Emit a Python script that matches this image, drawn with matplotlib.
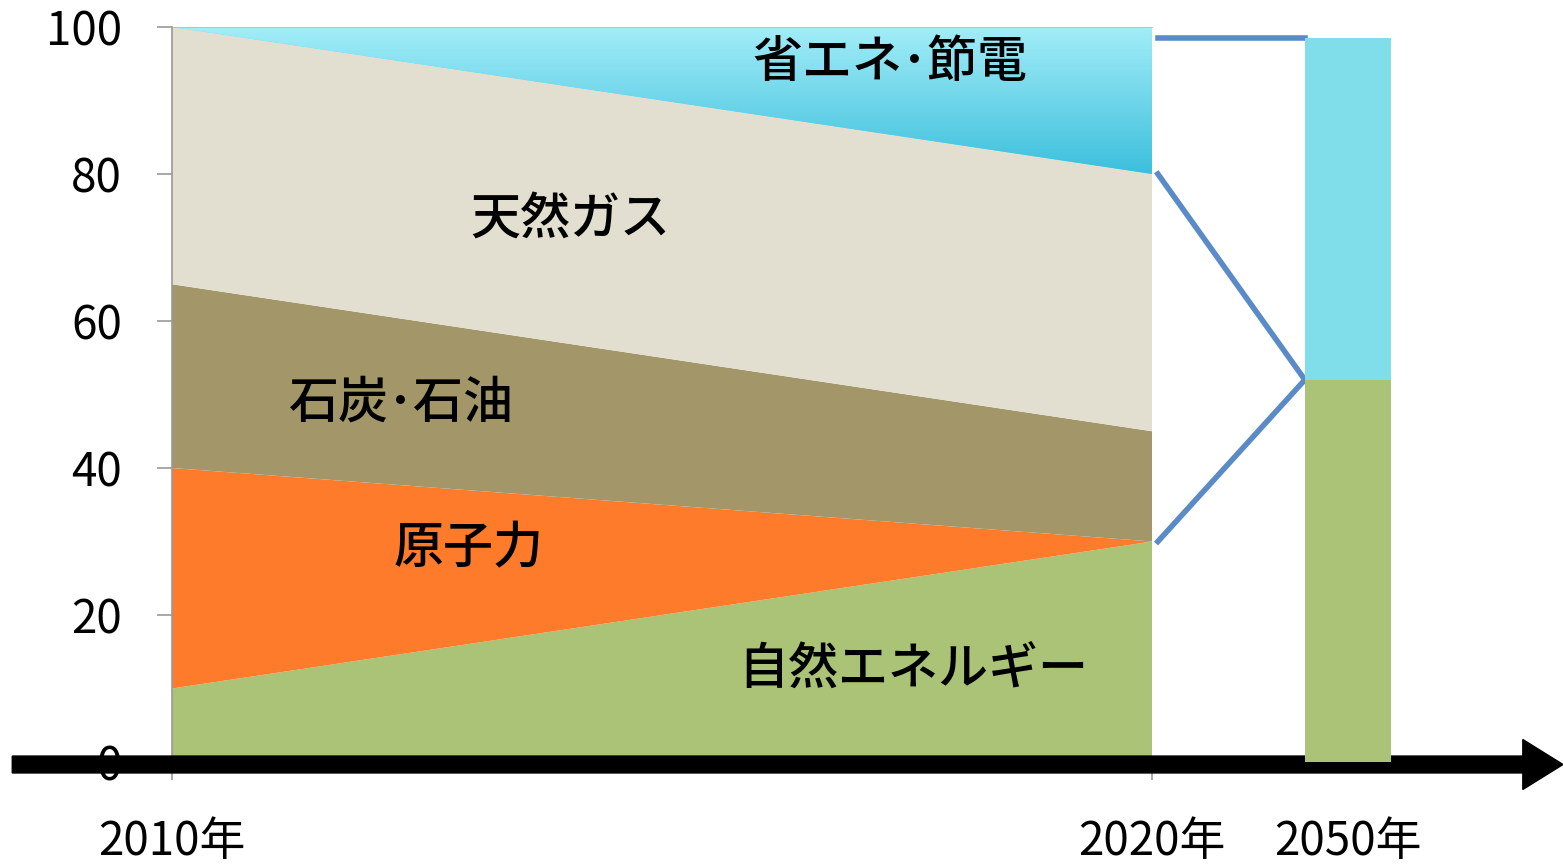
import numpy as np
import matplotlib
matplotlib.use("Agg")
import matplotlib.pyplot as plt
from matplotlib.patches import FancyArrow, Polygon
from matplotlib.colors import LinearSegmentedColormap

plt.rcParams['font.family'] = ['Noto Sans CJK JP', 'DejaVu Sans']

# データ（2010年=0, 2020年=10, 2050年の棒は 12 の位置）
year_labels = ['2010年', '2020年', '2050年']
year_pos = [0, 10, 12]
x_area = [0, 10]
renewable = [10, 30]   # 自然エネルギー
nuclear = [30, 0]      # 原子力
coal_oil = [25, 15]    # 石炭・石油
gas = [35, 35]         # 天然ガス
saving = [0, 20]       # 省エネ・節電
bar_renewable = 52     # 2050年 自然エネルギー
bar_saving = 46.5      # 2050年 省エネ・節電

names = ['自然エネルギー', '原子力', '石炭･石油', '天然ガス', '省エネ･節電']
colors = ['#aac376', '#fd7b2a', '#a39769', '#e3dfd0', '#5fd0e6']

fig = plt.figure(figsize=(15.63, 8.68), dpi=100)
ax = fig.add_axes([172 / 1563, 106 / 868, 1391 / 1563, 735 / 868])

polys = ax.stackplot(x_area, renewable, nuclear, coal_oil, gas, saving,
                     colors=colors, linewidth=0, zorder=2)

# 省エネ部分はグラデーション
top = np.cumsum([renewable, nuclear, coal_oil, gas, saving], axis=0)
grad = LinearSegmentedColormap.from_list('g', ['#3cbfdc', '#a2edf8'])
img = ax.imshow(np.linspace(0, 1, 256).reshape(-1, 1), cmap=grad, aspect='auto',
                origin='lower', extent=(0, 10, top[3].min(), 100), zorder=3)
clip = Polygon(list(zip(x_area, top[3])) + list(zip(x_area[::-1], top[4][::-1])),
               closed=True, transform=ax.transData, facecolor='none', edgecolor='none')
ax.add_patch(clip)
img.set_clip_path(clip)
ax.set_xlim(0, 14.194)
ax.set_ylim(0, 100)

# 上端の線
ax.plot([0, 10], [100, 100], color='#bbbbbb', lw=1.2, zorder=4)

# 2050年の棒
bw = 0.88
ax.bar(year_pos[2], bar_renewable, width=bw, color='#aac376', zorder=6)
ax.bar(year_pos[2], bar_saving, width=bw, bottom=bar_renewable, color='#7fdeea', zorder=6)

# 接続線
x0, x1 = 10.06, year_pos[2] - bw / 2
bar_top = bar_renewable + bar_saving
lc = '#5b8bc6'
ax.plot([x0, x1], [bar_top, bar_top], color=lc, lw=4, zorder=5, clip_on=False)
ax.plot([x0, x1], [top[3][1], bar_renewable], color=lc, lw=4, zorder=5, clip_on=False)
ax.plot([x0, x1], [top[0][1], bar_renewable], color=lc, lw=4, zorder=5, clip_on=False)

# ラベル
label_xy = [(7.56, 12.5), (3.03, 29.0), (2.33, 48.8), (4.06, 73.7), (7.33, 95.1)]
for name, (lx, ly) in zip(names, label_xy):
    ax.text(lx, ly, name, fontsize=36, fontweight='medium', ha='center', va='center',
            color='black', zorder=7)

# 横軸の矢印
arrow = FancyArrow(-1.63, -0.34, 14.194 + 1.63, 0, width=2.3, head_width=6.8,
                   head_length=0.41, length_includes_head=True, color='black',
                   clip_on=False, zorder=5)
ax.add_patch(arrow)

# 軸
for s in ['top', 'right', 'bottom']:
    ax.spines[s].set_visible(False)
ax.spines['left'].set_color('#999999')
ax.spines['left'].set_linewidth(1.2)
ax.spines['left'].set_zorder(4)

ax.set_yticks([0, 20, 40, 60, 80, 100])
ax.tick_params(axis='y', length=11, width=1.2, color='#999999', pad=25, labelsize=33)
ax.set_xticks(year_pos, labels=year_labels)
ax.tick_params(axis='x', length=13, width=1.2, color='#999999', pad=27, labelsize=33)
ax.xaxis.get_major_ticks()[2].tick1line.set_visible(False)

fig.savefig('out.png', dpi=100)
